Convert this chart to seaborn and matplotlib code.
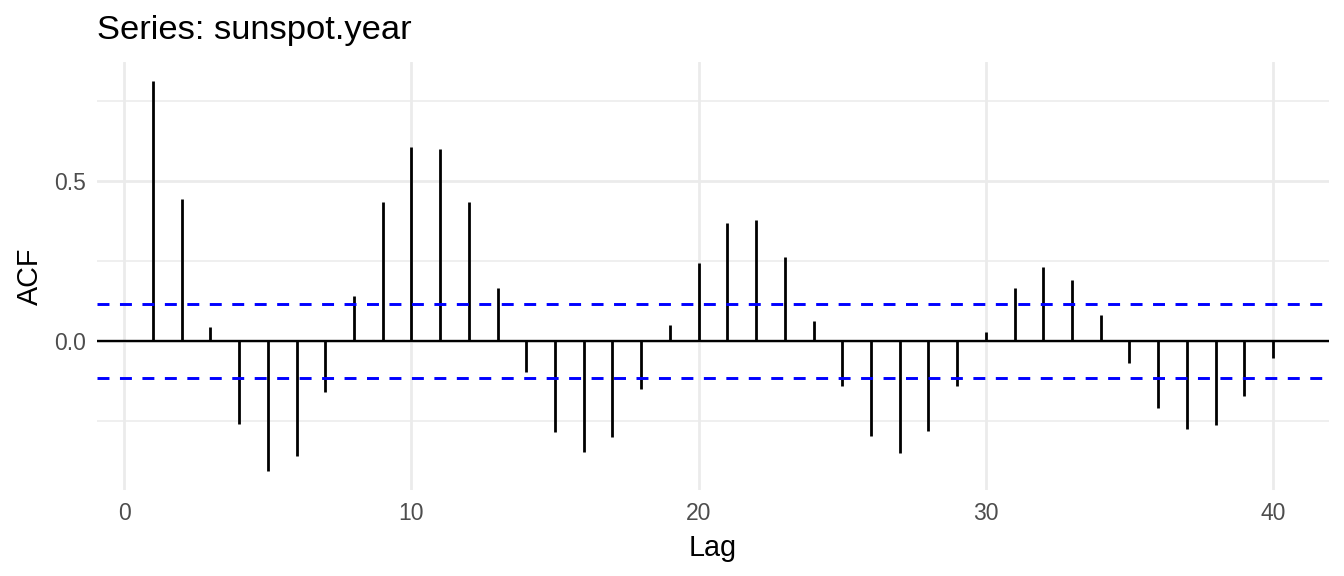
import numpy as np
import matplotlib
matplotlib.use("Agg")
import matplotlib.pyplot as plt
import seaborn as sns

# ACF values (sunspot.year, lags 1..40)
lags = list(range(1, 41))
acf_values = [
    0.812, 0.446, 0.045, -0.260, -0.404, -0.358, -0.157, 0.142, 0.436, 0.606,
    0.602, 0.434, 0.167, -0.095, -0.282, -0.347, -0.299, -0.150, 0.051, 0.246,
    0.371, 0.380, 0.264, 0.063, -0.140, -0.297, -0.350, -0.279, -0.139, 0.028,
    0.166, 0.231, 0.193, 0.082, -0.067, -0.207, -0.274, -0.261, -0.170, -0.052,
]
n_obs = 289
conf_limit = 1.96 / np.sqrt(n_obs)

title = "Series: sunspot.year"
x_label = "Lag"
y_label = "ACF"
x_ticks = [0, 10, 20, 30, 40]
y_ticks = [0.0, 0.5]
y_minor = [-0.25, 0.25, 0.75]

sns.set_theme(style="white")
plt.rcParams["font.family"] = ["Liberation Sans", "DejaVu Sans"]

fig = plt.figure(figsize=(13.44, 5.76), dpi=100)
ax = fig.add_axes([97 / 1344, 1 - 490 / 576, (1329 - 97) / 1344, (490 - 62) / 576])

# limits like ggplot's 5% expansion
xmin, xmax = min(lags), max(lags)
xr = xmax - xmin
ax.set_xlim(xmin - 0.05 * xr, xmax + 0.05 * xr)
ymin, ymax = min(acf_values), max(acf_values)
yr = ymax - ymin
ax.set_ylim(ymin - 0.05 * yr, ymax + 0.05 * yr)

# grid (theme_minimal look)
grid_col = "#EBEBEB"
for yv in y_minor:
    ax.axhline(yv, color=grid_col, lw=1.1, zorder=0)
for yv in y_ticks:
    ax.axhline(yv, color=grid_col, lw=2.0, zorder=0)
for xv in x_ticks:
    ax.axvline(xv, color=grid_col, lw=2.0, zorder=0)

# zero line, stems and confidence bounds
ax.axhline(0, color="black", lw=1.7, zorder=2)
ax.vlines(lags, 0, acf_values, color="black", lw=2.0, zorder=3)
for c in (conf_limit, -conf_limit):
    ax.axhline(c, color="#0000FF", lw=2.1, linestyle=(0, (4.1, 3.6)), zorder=4)

ax.set_xticks(x_ticks)
ax.set_xticklabels([str(v) for v in x_ticks])
ax.set_yticks(y_ticks)
ax.set_yticklabels([f"{v:.1f}" for v in y_ticks])
ax.tick_params(axis="both", length=0, labelsize=16.5, labelcolor="#4D4D4D")
ax.tick_params(axis="x", pad=9)
ax.tick_params(axis="y", pad=8)
for s in ax.spines.values():
    s.set_visible(False)
ax.grid(False)

ax.set_xlabel(x_label, fontsize=20.7, color="black", labelpad=6)
ax.set_ylabel(y_label, fontsize=20.7, color="black", labelpad=7)

fig.text(97 / 1344, 1 - 39 / 576, title, fontsize=24.8, color="black",
         ha="left", va="baseline")

fig.savefig("out.png", dpi=100, facecolor="white")
plt.close(fig)
